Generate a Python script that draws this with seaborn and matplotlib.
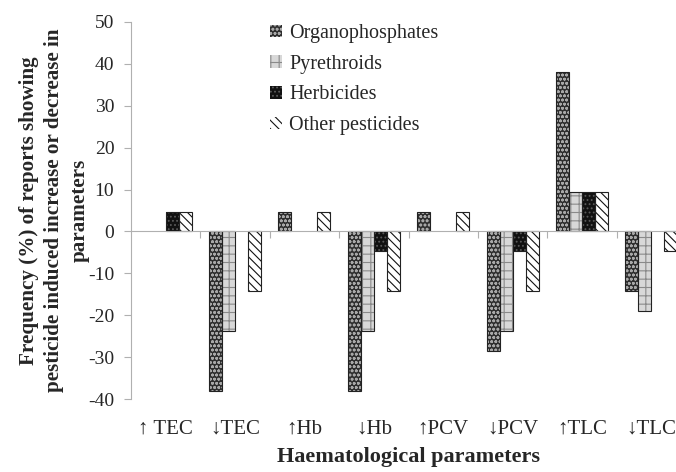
import pandas as pd
import matplotlib.pyplot as plt
import matplotlib.patches as mpatches
import seaborn as sns

# Data
params = ['\u2191 TEC', '\u2193TEC', '\u2191Hb', '\u2193Hb', '\u2191PCV', '\u2193PCV', '\u2191TLC', '\u2193TLC']
groups = ['Organophosphates', 'Pyrethroids', 'Herbicides', 'Other pesticides']
organophosphates = [0, -38.1, 4.76, -38.1, 4.76, -28.6, 38.1, -14.3]
pyrethroids = [0, -23.8, 0, -23.8, 0, -23.8, 9.52, -19.0]
herbicides = [4.76, 0, 0, -4.76, 0, -4.76, 9.52, 0]
other_pesticides = [4.76, -14.3, 4.76, -14.3, 4.76, -14.3, 9.52, -4.76]

rows = []
for g, vals in zip(groups, [organophosphates, pyrethroids, herbicides, other_pesticides]):
    for p, v in zip(params, vals):
        rows.append({'param': p, 'group': g, 'value': v})
df = pd.DataFrame(rows)

# fill colour, hatch pattern, hatch colour for each group
face = ['#2e2e2e', '#d8d8d8', '#111111', '#ffffff']
hatches = ['oooo', '++', '....', '\\\\\\\\']
hatch_col = ['#a8a8a8', '#8a8a8a', '#5a5a5a', '#111111']

sns.set_style('white')
plt.rcParams['font.family'] = ['Liberation Serif', 'DejaVu Serif']
plt.rcParams['hatch.linewidth'] = 0.8
plt.rcParams['axes.unicode_minus'] = False

fig = plt.figure(figsize=(6.76, 4.72), dpi=100)
ax = fig.add_axes([131 / 676, 1 - 399 / 472, 555 / 676, 377 / 472])

sns.barplot(data=df, x='param', y='value', hue='group', order=params, hue_order=groups,
            palette=face, saturation=1, width=0.75, legend=False, ax=ax)

handles = []
for i, cont in enumerate(ax.containers):
    for bar in cont.patches:
        bar.set_hatch(hatches[i])
        bar.set_edgecolor(hatch_col[i])
        bar.set_linewidth(0)
        if bar.get_height() != 0:
            ax.add_patch(mpatches.Rectangle(bar.get_xy(), bar.get_width(), bar.get_height(),
                                            fill=False, edgecolor='#222222', linewidth=0.8))
    handles.append(mpatches.Patch(facecolor=face[i], hatch=hatches[i], edgecolor=hatch_col[i],
                                  linewidth=0, label=groups[i]))

ax.set_xlim(-0.5, 7.5)
ax.set_ylim(-40, 50)
ax.set_yticks(range(-40, 51, 10))

# axis styling: category axis sits on zero, labels at the bottom
for s in ['top', 'right']:
    ax.spines[s].set_visible(False)
ax.spines['left'].set_color('#b0b0b0')
ax.spines['bottom'].set_color('#b0b0b0')
ax.spines['bottom'].set_position(('data', 0))
ax.set_xticks([0.5 + k for k in range(7)])
ax.set_xticklabels([])
ax.tick_params(axis='x', bottom=True, length=5, color='#b0b0b0', direction='out')
ax.tick_params(axis='y', left=True, length=5, color='#b0b0b0', direction='out',
               labelsize=14, pad=7)

sec = ax.secondary_xaxis('bottom')
sec.set_xticks(range(len(params)))
sec.set_xticklabels(params, fontsize=15)
sec.tick_params(length=0, pad=15)
sec.spines['bottom'].set_visible(False)
sec.set_xlabel('Haematological parameters', fontsize=16, fontweight='bold', labelpad=6)

ax.set_xlabel('')
ax.set_ylabel('Frequency (%) of reports showing\npesticide induced increase or decrease in\nparameters',
              fontsize=15.2, fontweight='bold', linespacing=1.35)
ax.yaxis.set_label_coords(-0.075, 0.5)

ax.legend(handles=handles, loc='upper left', bbox_to_anchor=(270 / 676, 1 - 24 / 472),
          bbox_transform=fig.transFigure, frameon=False, fontsize=14.5, handlelength=0.6,
          handleheight=0.6, handletextpad=0.35, labelspacing=0.58, borderpad=0, borderaxespad=0)

fig.savefig('out.png', dpi=100)
